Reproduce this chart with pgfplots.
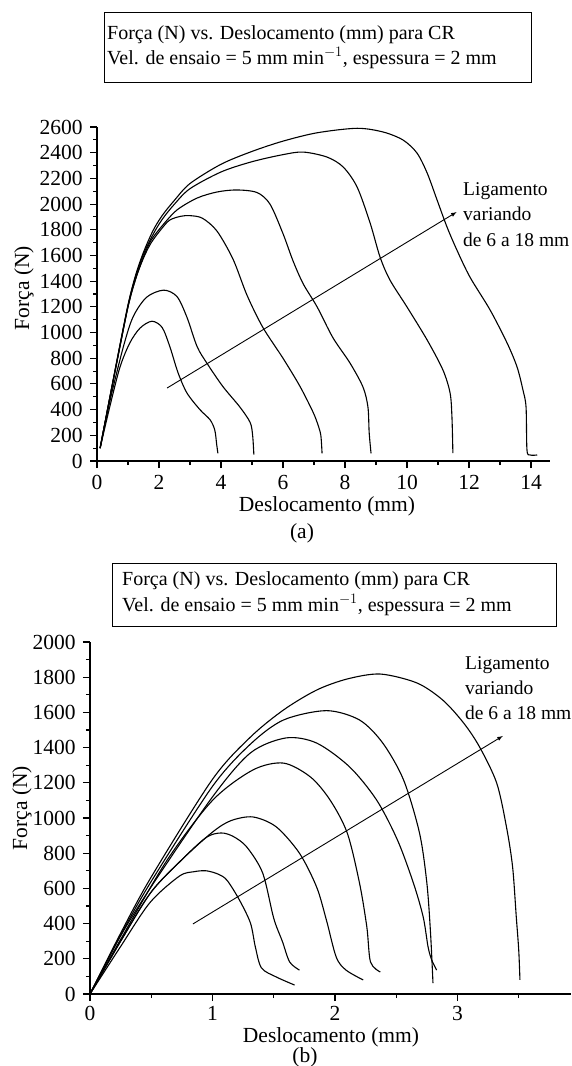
\documentclass[border=0pt]{standalone}
\usepackage{pgfplots}
\pgfplotsset{compat=1.18}
\usepackage{fontspec}
\setmainfont{Liberation Serif}

\pgfplotsset{
  panel/.style={
    scale only axis,
    axis lines=left,
    axis line style={-, line width=1.1pt},
    enlargelimits=false,
    tick align=outside,
    major tick length=7pt,
    minor tick length=4pt,
    every tick/.style={black, line width=1.1pt},
    tick label style={font=\fontsize{21.5}{25}\selectfont},
    /pgf/number format/assume math mode=true,
    /pgf/number format/set thousands separator={},
    clip=false,
    every axis plot/.append style={black, line width=1.1pt, no marks},
  }
}

\begin{document}
\fontsize{21.5}{25}\selectfont
\begin{tikzpicture}
\useasboundingbox (0pt,0pt) rectangle (572pt,-1066pt);

% ---------- (a) ----------
\draw[line width=0.9pt] (104pt,-12pt) rectangle (531pt,-82pt);
\node[anchor=base west, inner sep=0, font=\fontsize{20}{24}\selectfont] at (107pt,-39pt) {Força (N) vs. Deslocamento (mm) para CR};
\node[anchor=base west, inner sep=0, font=\fontsize{20}{24}\selectfont] at (107pt,-64pt) {Vel. de ensaio = 5 mm min$^{-1}$, espessura = 2 mm};

\begin{axis}[panel, at={(97pt,-461pt)}, anchor=south west,
  width=452.6pt, height=334pt,
  xmin=0, xmax=14.6, ymin=0, ymax=2600,
  xtick={0,2,...,14}, minor xtick={1,3,...,13},
  ytick={0,200,...,2600}, minor ytick={100,300,...,2500}]
\addplot[smooth] coordinates {(0.1,100) (0.42,430) (0.74,730) (1.06,920) (1.39,1035) (1.77,1088) (2.1,1040) (2.35,890) (2.61,690) (2.9,530) (3.32,400) (3.65,320) (3.8,240) (3.86,130) (3.9,60)};
\addplot[smooth] coordinates {(0.1,100) (0.42,470) (0.84,880) (1.16,1120) (1.6,1275) (2.15,1330) (2.58,1280) (2.9,1120) (3.23,890) (3.55,760) (4.06,580) (4.61,420) (4.94,300) (5.02,200) (5.06,50)};
\addplot[smooth] coordinates {(0.1,100) (0.6,720) (1.0,1200) (1.25,1420) (1.5,1580) (1.75,1700) (2.1,1813) (2.35,1876) (2.7,1905) (3.0,1910) (3.4,1890) (3.87,1790) (4.39,1570) (4.84,1290) (5.35,1040) (6.0,800) (6.55,580) (6.97,380) (7.13,280) (7.22,200) (7.26,60)};
\addplot[smooth] coordinates {(0.1,100) (0.6,720) (1.0,1200) (1.25,1420) (1.5,1590) (1.75,1720) (2.1,1830) (2.58,1954) (3.23,2047) (3.87,2094) (4.5,2110) (5.16,2090) (5.58,2000) (6.0,1770) (6.32,1560) (6.65,1380) (7.1,1200) (7.61,960) (8.16,763) (8.58,576) (8.74,420) (8.78,220) (8.84,60)};
\addplot[smooth] coordinates {(0.1,100) (0.6,725) (1.0,1210) (1.25,1440) (1.5,1610) (1.8,1760) (2.1,1880) (2.5,2000) (3.0,2120) (4.0,2250) (5.0,2330) (6.0,2385) (6.65,2405) (7.42,2366) (7.94,2289) (8.39,2133) (8.81,1853) (9.13,1588) (9.45,1409) (10.0,1199) (10.65,942) (11.16,708) (11.39,529) (11.45,342) (11.48,62)};
\addplot[smooth] coordinates {(0.1,100) (0.6,730) (1.0,1215) (1.25,1450) (1.5,1625) (1.8,1790) (2.1,1910) (2.5,2030) (3.0,2160) (4.0,2310) (5.0,2410) (6.0,2490) (7.1,2555) (8.39,2590) (9.23,2561) (9.87,2499) (10.32,2398) (10.65,2242) (10.97,2032) (11.29,1822) (11.61,1642) (12.03,1432) (12.68,1176) (13.23,918) (13.55,732) (13.74,553) (13.84,420) (13.87,86) (13.97,47) (14.2,47)};
\addplot[-latex, line width=0.9pt] coordinates {(2.26,568) (11.6,1938)};
\end{axis}
\node[anchor=base west, inner sep=0, font=\fontsize{19.5}{23}\selectfont] at (463pt,-195pt) {Ligamento};
\node[anchor=base west, inner sep=0, font=\fontsize{19.5}{23}\selectfont] at (463pt,-220pt) {variando};
\node[anchor=base west, inner sep=0, font=\fontsize{19.5}{23}\selectfont] at (463pt,-246pt) {de 6 a 18 mm};
\node[rotate=90] at (24pt,-288pt) {Força (N)};
\node at (327pt,-506pt) {Deslocamento (mm)};
\node at (302pt,-533pt) {(a)};

% ---------- (b) ----------
\draw[line width=0.9pt] (112pt,-563pt) rectangle (556pt,-626pt);
\node[anchor=base west, inner sep=0, font=\fontsize{20}{24}\selectfont] at (122pt,-585pt) {Força (N) vs. Deslocamento (mm) para CR};
\node[anchor=base west, inner sep=0, font=\fontsize{20}{24}\selectfont] at (122pt,-611pt) {Vel. de ensaio = 5 mm min$^{-1}$, espessura = 2 mm};

\begin{axis}[panel, at={(90pt,-994pt)}, anchor=south west,
  width=481.4pt, height=352pt,
  xmin=0, xmax=3.93, ymin=0, ymax=2000,
  xtick={0,1,2,3}, minor xtick={0.5,1.5,2.5,3.5},
  xticklabel style={yshift=2pt},
  ytick={0,200,...,2000}, minor ytick={100,300,...,1900}]
\addplot[smooth] coordinates {(0,0) (0.25,270) (0.49,520) (0.73,670) (0.85,695) (0.95,700) (1.05,680) (1.12,645) (1.22,534) (1.31,403) (1.35,267) (1.4,148) (1.52,97) (1.67,51)};
\addplot[smooth] coordinates {(0,0) (0.25,300) (0.5,580) (0.76,770) (0.95,890) (1.07,915) (1.17,895) (1.28,835) (1.41,687) (1.5,430) (1.57,300) (1.63,182) (1.71,136)};
\addplot[smooth] coordinates {(0,0) (0.25,300) (0.5,580) (0.76,770) (1.0,920) (1.15,985) (1.33,1006) (1.52,950) (1.71,800) (1.85,608) (1.93,420) (2.01,210) (2.09,136) (2.23,80)};
\addplot[smooth] coordinates {(0,0) (0.25,310) (0.63,761) (1.0,1100) (1.33,1273) (1.58,1312) (1.8,1233) (1.96,1102) (2.1,915) (2.2,631) (2.26,381) (2.29,182) (2.37,125)};
\addplot[smooth] coordinates {(0,0) (0.25,330) (0.5,610) (1.0,1120) (1.31,1370) (1.6,1455) (1.85,1426) (2.12,1290) (2.34,1102) (2.51,875) (2.64,631) (2.72,438) (2.76,267) (2.79,193) (2.83,136)};
\addplot[smooth] coordinates {(0,0) (0.25,335) (0.5,640) (1.0,1180) (1.31,1420) (1.58,1557) (1.93,1610) (2.2,1557) (2.39,1426) (2.56,1216) (2.69,915) (2.75,631) (2.78,347) (2.8,62)};
\addplot[smooth] coordinates {(0,0) (0.25,345) (0.5,665) (1.0,1220) (1.31,1460) (1.58,1614) (1.85,1727) (2.1,1790) (2.37,1818) (2.67,1767) (2.88,1670) (3.05,1540) (3.18,1404) (3.32,1199) (3.4,949) (3.45,722) (3.48,438) (3.5,250) (3.51,80)};
\addplot[-latex, line width=0.9pt] coordinates {(0.84,398) (3.37,1466)};
\end{axis}
\node[anchor=base west, inner sep=0, font=\fontsize{19.5}{23}\selectfont] at (465pt,-669pt) {Ligamento};
\node[anchor=base west, inner sep=0, font=\fontsize{19.5}{23}\selectfont] at (465pt,-694pt) {variando};
\node[anchor=base west, inner sep=0, font=\fontsize{19.5}{23}\selectfont] at (465pt,-719pt) {de 6 a 18 mm};
\node[rotate=90] at (22pt,-808pt) {Força (N)};
\node at (331pt,-1037pt) {Deslocamento (mm)};
\node at (305pt,-1057pt) {(b)};
\end{tikzpicture}
\end{document}
